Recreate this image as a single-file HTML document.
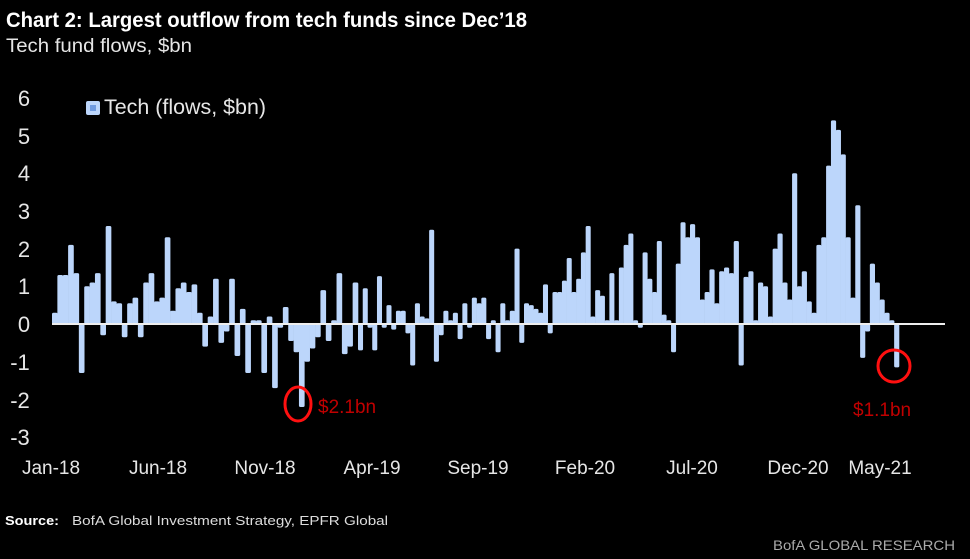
<!DOCTYPE html>
<html><head><meta charset="utf-8"><style>
html,body{margin:0;padding:0;background:#000;}
body{width:970px;height:554px;overflow:hidden;}
svg text{font-family:"Liberation Sans Narrow","Liberation Sans",sans-serif;}
</style></head><body>
<svg id="c" width="970" height="554" xmlns="http://www.w3.org/2000/svg">
<rect width="970" height="554" fill="#000"/>
<text x="6" y="27" font-size="21" font-weight="bold" fill="#fff" textLength="521" lengthAdjust="spacingAndGlyphs">Chart 2: Largest outflow from tech funds since Dec’18</text>
<text x="6" y="52" font-size="19" fill="#e6e6e6" textLength="186" lengthAdjust="spacingAndGlyphs">Tech fund flows, $bn</text>
<g font-size="22" fill="#e6e6e6" text-anchor="middle">
<text x="24" y="106">6</text><text x="24" y="144">5</text><text x="24" y="181">4</text>
<text x="24" y="219">3</text><text x="24" y="257">2</text><text x="24" y="294">1</text>
<text x="24" y="332">0</text><text x="20" y="370">-1</text><text x="20" y="408">-2</text>
<text x="20" y="445">-3</text>
</g>
<rect x="86" y="101" width="14" height="14" rx="2" fill="#bcd6fb"/>
<rect x="90" y="105" width="6" height="6" fill="#6f9be0"/>
<text x="104" y="114" font-size="21" fill="#e6e6e6" textLength="162" lengthAdjust="spacingAndGlyphs">Tech (flows, $bn)</text>
<g id="bars" fill="#bcd6fb"></g>
<line x1="52" y1="324" x2="945" y2="324" stroke="#eeeeee" stroke-width="2"/>
<ellipse cx="298" cy="404" rx="13" ry="17" fill="none" stroke="#ff1010" stroke-width="3"/>
<text x="318" y="413" font-size="19" fill="#c00000">$2.1bn</text>
<ellipse cx="894" cy="366" rx="16" ry="16" fill="none" stroke="#ff1010" stroke-width="3"/>
<text x="853" y="416" font-size="19" fill="#c00000">$1.1bn</text>
<g font-size="19" fill="#e6e6e6" text-anchor="middle">
<text x="51" y="474">Jan-18</text><text x="158" y="474">Jun-18</text><text x="265" y="474">Nov-18</text>
<text x="372" y="474">Apr-19</text><text x="478" y="474">Sep-19</text><text x="585" y="474">Feb-20</text>
<text x="692" y="474">Jul-20</text><text x="798" y="474">Dec-20</text><text x="880" y="474">May-21</text>
</g>
<text x="5" y="525" font-size="13" font-weight="bold" fill="#fff" textLength="54" lengthAdjust="spacingAndGlyphs">Source:</text>
<text x="72" y="525" font-size="13" fill="#dcdcdc" textLength="316" lengthAdjust="spacingAndGlyphs">BofA Global Investment Strategy, EPFR Global</text>
<text x="955" y="550" font-size="14" fill="#aaa" text-anchor="end" textLength="182" lengthAdjust="spacingAndGlyphs">BofA GLOBAL RESEARCH</text>
</svg>
<script>
var A=[0.3,1.3,1.3,2.1,1.35,-1.3,1.0,1.1,1.35,-0.3,2.6,0.6,0.55,-0.35,0.55,0.7,-0.35,1.1,1.35,0.6,0.7,2.3,0.35,0.95,1.1,0.85,1.05,0.3,-0.6,0.2,1.2,-0.5,-0.2,1.2,-0.85,0.4,-1.3,0.1,0.1,-1.3,0.2,-1.7,-0.1,0.45,-0.45,-0.75,-2.2,-1.0,-0.65,-0.35,0.9,-0.45,0.1,1.35,-0.8,-0.6,1.1];
var B=[-0.7,0.95,-0.1,-0.7,1.27,-0.1,0.5,-0.15,0.35,0.35,-0.25,-1.1,0.55,0.2,0.15,2.5,-1.0,-0.3,0.35,0.1,0.3,-0.4,0.55,-0.1,0.7,0.55,0.7,-0.4,0.1,-0.75,0.55,0.1,0.35,2.0,-0.5,0.55,0.5,0.4,0.3,1.05,-0.25,0.85,0.85,1.15,1.75,0.85,1.2,1.9,2.6,0.2,0.9,0.75,0.1,1.35,0.1,1.5,2.1,2.4,0.1,-0.1,1.9,1.2,0.85,2.2,0.25,0.1,-0.75,1.6,2.7,2.3];
var C=[2.65,2.3,0.65,0.85,1.45,0.55,1.4,1.5,1.35,2.2,-1.1,1.25,1.4,0.1,1.1,1.0,0.2,2.0,2.4,1.1,0.65,4.0,1.0,1.4,0.6,0.3,2.1,2.3,4.2,5.4,5.15,4.5,2.3,0.7,3.15,-0.9,-0.2,1.6,1.1,0.65,0.3,0.1,-1.15];
var g=document.getElementById('bars'),ns='http://www.w3.org/2000/svg',z=324,u=37.7;
function seg(arr,x0,x1){var s=(x1-x0)/arr.length;arr.forEach(function(v,i){var r=document.createElementNS(ns,'rect');var h=Math.abs(v)*u;r.setAttribute('x',(x0+i*s).toFixed(2));r.setAttribute('width',(s+0.3).toFixed(2));r.setAttribute('y',(v>0?z-h:z).toFixed(2));r.setAttribute('height',Math.max(h,1).toFixed(2));r.setAttribute('rx','1.5');g.appendChild(r);});}
seg(A,52,358);seg(B,358,690);seg(C,690,899);
</script>
</body></html>
